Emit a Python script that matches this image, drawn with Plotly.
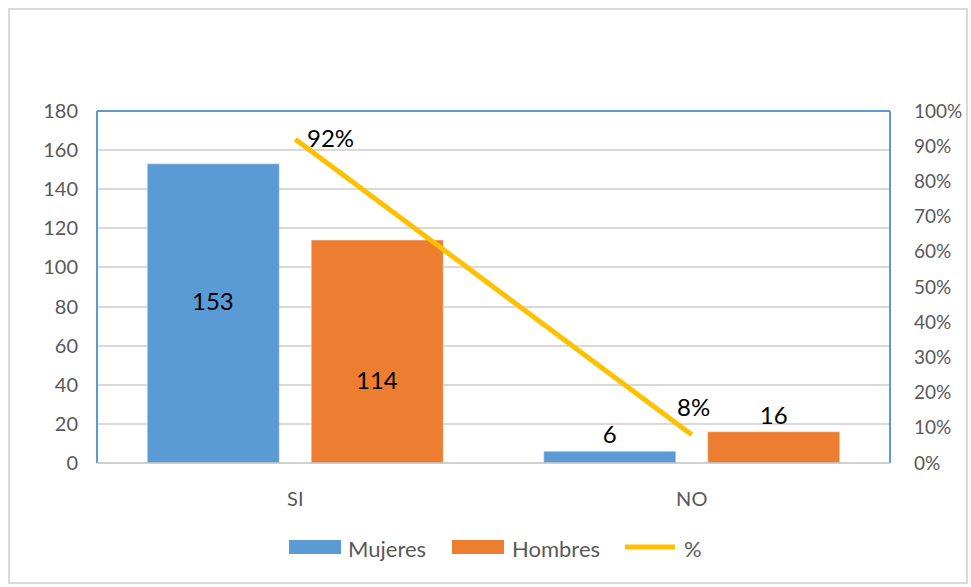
import plotly.graph_objects as go

categories = ["SI", "NO"]
mujeres = [153, 6]
hombres = [114, 16]
porcentaje = [0.92, 0.08]

BLUE = "#5B9BD5"
ORANGE = "#ED7D31"
GOLD = "#FFC000"
FONT = "Lato"
TICK_COLOR = "#595959"
LABEL_SIZE = 24
TICK_SIZE = 20

fig = go.Figure()

# bars: small values get their label above the bar, large ones inside (added as annotations)
for name, values, color in [("Mujeres", mujeres, BLUE), ("Hombres", hombres, ORANGE)]:
    fig.add_trace(go.Bar(
        x=categories, y=values, name=name, marker_color=color,
        text=["", str(values[1])],
        textposition="outside",
        textfont=dict(family=FONT, size=LABEL_SIZE, color="black"),
        constraintext="none", cliponaxis=False,
        offsetgroup=name,
    ))

fig.add_trace(go.Scatter(
    x=categories, y=porcentaje, name="%", yaxis="y2", mode="lines",
    line=dict(color=GOLD, width=5),
))

annotations = []
# inside labels for the SI bars
for values, xshift, yshift in [(mujeres, -82, 13), (hombres, 82, -28)]:
    annotations.append(dict(
        x=categories[0], y=values[0] / 2, xref="x", yref="y",
        text=str(values[0]), showarrow=False, xshift=xshift, yshift=yshift,
        font=dict(family=FONT, size=LABEL_SIZE, color="black")))

# percentage labels on the line
annotations += [
    dict(x=categories[0], y=porcentaje[0], yref="y2", xref="x",
         text=f"{porcentaje[0]:.0%}", showarrow=False, xanchor="left",
         yanchor="middle", xshift=10, yshift=2,
         font=dict(family=FONT, size=LABEL_SIZE, color="black")),
    dict(x=categories[1], y=porcentaje[1], yref="y2", xref="x",
         text=f"{porcentaje[1]:.0%}", showarrow=False, xanchor="center",
         yanchor="bottom", xshift=2, yshift=12,
         font=dict(family=FONT, size=LABEL_SIZE, color="black")),
]

# custom legend below the plot
legend_items = [
    ("Mujeres", BLUE, "rect", 289, 341, 346),
    ("Hombres", ORANGE, "rect", 452, 504, 510),
    ("%", GOLD, "line", 625, 675, 682),
]
PL, PR, PT, PB = 97, 890, 111, 463
W, H = PR - PL, PB - PT


def px(x):
    return (x - PL) / W


def py(y):
    return (PB - y) / H


shapes = []
for label, color, kind, x0, x1, tx in legend_items:
    if kind == "rect":
        shapes.append(dict(type="rect", xref="paper", yref="paper",
                           x0=px(x0), x1=px(x1), y0=py(554), y1=py(540),
                           fillcolor=color, line=dict(width=0)))
    else:
        shapes.append(dict(type="line", xref="paper", yref="paper",
                           x0=px(x0), x1=px(x1), y0=py(547), y1=py(547),
                           line=dict(color=color, width=5)))
    annotations.append(dict(x=px(tx), y=py(548), xref="paper", yref="paper",
                            text=label, showarrow=False, xanchor="left",
                            yanchor="middle",
                            font=dict(family=FONT, size=22, color=TICK_COLOR)))

# outer chart frame
shapes.append(dict(type="rect", xref="paper", yref="paper",
                   x0=px(9), x1=px(967), y0=py(583), y1=py(9),
                   line=dict(color="#D9D9D9", width=2), fillcolor="rgba(0,0,0,0)"))
# plot area frame: blue left/top/right, grey bottom
for x0, x1, y0, y1, col, w in [(0, 0, 0, 1, BLUE, 2), (0, 1, 1, 1, BLUE, 2),
                               (1, 1, 0, 1, BLUE, 2), (0, 1, 0, 0, "#BFBFBF", 1.5)]:
    shapes.append(dict(type="line", xref="paper", yref="paper",
                       x0=x0, x1=x1, y0=y0, y1=y1, line=dict(color=col, width=w)))

fig.update_layout(
    width=971, height=587,
    margin=dict(l=PL, r=971 - PR, t=PT, b=587 - PB, autoexpand=False),
    paper_bgcolor="white", plot_bgcolor="white",
    barmode="group", bargap=0.173, bargroupgap=0.195,
    showlegend=False,
    font=dict(family=FONT, color=TICK_COLOR),
    xaxis=dict(showgrid=False, showline=False, ticks="", automargin=False,
               tickfont=dict(family=FONT, size=TICK_SIZE, color=TICK_COLOR),
               ticklabelstandoff=22),
    yaxis=dict(range=[0, 180], dtick=20, showgrid=True, gridcolor="#D9D9D9",
               gridwidth=1.5, zeroline=False, showline=False, ticks="",
               automargin=False,
               tickfont=dict(family=FONT, size=TICK_SIZE, color=TICK_COLOR),
               ticklabelstandoff=18),
    yaxis2=dict(range=[0, 1], dtick=0.1, tickformat=".0%", overlaying="y",
                side="right", showgrid=False, zeroline=False, showline=False,
                ticks="", automargin=False,
                tickfont=dict(family=FONT, size=19, color=TICK_COLOR),
                ticklabelstandoff=23),
    shapes=shapes,
    annotations=annotations,
)

fig.write_html("out.html")
